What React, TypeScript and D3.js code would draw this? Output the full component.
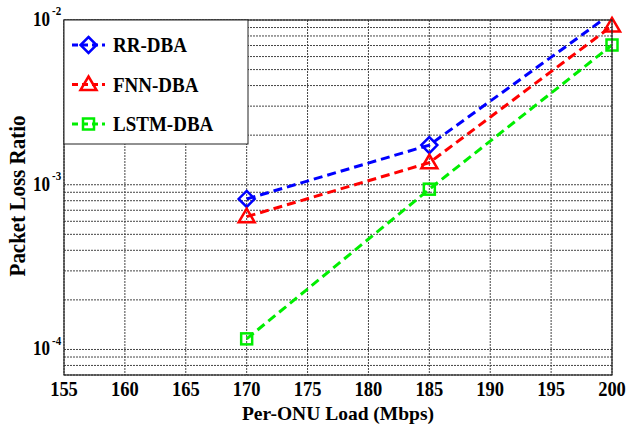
import React from "react";
import * as d3 from "d3";

const xTicks = [155, 160, 165, 170, 175, 180, 185, 190, 195, 200];
const loads = [170, 185, 200];
const rrDba = [8.2e-4, 1.74e-3, 1.1e-2];
const fnnDba = [6.4e-4, 1.36e-3, 9.2e-3];
const lstmDba = [1.16e-4, 9.4e-4, 7.05e-3];
const seriesNames = ["RR-DBA", "FNN-DBA", "LSTM-DBA"];
const seriesColors = ["#0000ff", "#ff0000", "#00ee00"];
const seriesMarkers = ["diamond", "triangle", "square"];
const yMajor = [1e-4, 1e-3, 1e-2];
const yMajorExp = ["-4", "-3", "-2"];

const W = 628, H = 424;
const L = 64, R = 612, T = 20, B = 375;
const FONT = "'Liberation Serif', 'Times New Roman', serif";

function Marker({ type, x, y, color }: { type: string; x: number; y: number; color: string }) {
  const sw = 2.5;
  if (type === "diamond") {
    const s = 8;
    return <path d={`M${x},${y - s}L${x + s},${y}L${x},${y + s}L${x - s},${y}Z`} fill="none" stroke={color} strokeWidth={sw} />;
  }
  if (type === "triangle") {
    const s = 8;
    return <path d={`M${x},${y - s}L${x + s},${y + s * 0.7}L${x - s},${y + s * 0.7}Z`} fill="none" stroke={color} strokeWidth={sw} />;
  }
  const s = 5.5;
  return <rect x={x - s} y={y - s} width={2 * s} height={2 * s} fill="none" stroke={color} strokeWidth={sw} />;
}

export default function App() {
  const x = d3.scaleLinear().domain([155, 200]).range([L, R]);
  const y = d3.scaleLog().domain([7e-5, 1e-2]).range([B, T]);
  const minor: number[] = [];
  for (const dec of [1e-5, 1e-4, 1e-3]) {
    for (let k = 1; k <= 9; k++) {
      const v = dec * k;
      if (v >= 7e-5 && v <= 1e-2) minor.push(v);
    }
  }
  minor.push(1e-2);
  const data = [rrDba, fnnDba, lstmDba];
  const line = d3.line<number>().x((_, i) => x(loads[i])).y((d) => y(d));

  return (
    <svg width={W} height={H} style={{ position: "absolute", left: 0, top: 0, background: "#fff" }} fontFamily={FONT}>
      <defs>
        <clipPath id="plotclip">
          <rect x={L} y={T} width={R - L} height={B - T} />
        </clipPath>
      </defs>
      <rect x={0} y={0} width={W} height={H} fill="#fff" />
      {minor.map((v, i) => (
        <line key={"h" + i} x1={L} x2={R} y1={y(v)} y2={y(v)} stroke="#444" strokeWidth={1} strokeDasharray="2,1" />
      ))}
      {xTicks.map((t) => (
        <line key={"v" + t} x1={x(t)} x2={x(t)} y1={T} y2={B} stroke="#444" strokeWidth={1} strokeDasharray="2,1" />
      ))}
      <g clipPath="url(#plotclip)">
        {data.map((d, si) => (
          <path key={"l" + si} d={line(d) || ""} fill="none" stroke={seriesColors[si]} strokeWidth={3} strokeDasharray="9,5" />
        ))}
      </g>
      <g>
        {data.map((d, si) =>
          d.map((v, i) =>
            v <= 1e-2 ? <Marker key={"m" + si + i} type={seriesMarkers[si]} x={x(loads[i])} y={y(v)} color={seriesColors[si]} /> : null
          )
        )}
      </g>
      <rect x={L} y={T} width={R - L} height={B - T} fill="none" stroke="#222" strokeWidth={1.2} />
      <rect x={L} y={T} width={184} height={124} fill="#fff" stroke="#222" strokeWidth={1} />
      {seriesNames.map((n, i) => {
        const ly = 45 + i * 39.5;
        return (
          <g key={"lg" + n}>
            <line x1={72} x2={105} y1={ly} y2={ly} stroke={seriesColors[i]} strokeWidth={3} strokeDasharray="6,4" />
            <Marker type={seriesMarkers[i]} x={88.5} y={ly} color={seriesColors[i]} />
            <text transform={`translate(113,${ly + 7}) scale(1,1.1)`} fontSize={19} fontWeight="bold" fill="#000">{n}</text>
          </g>
        );
      })}
      {xTicks.map((t) => (
        <text key={"xt" + t} transform={`translate(${x(t)},${B + 21}) scale(1,1.08)`} fontSize={18.5} fontWeight="bold" textAnchor="middle" fill="#000">{t}</text>
      ))}
      {yMajor.map((v, i) => (
        <g key={"yt" + i} transform={`translate(0,${y(v) + 6}) scale(1,1.2)`}>
          <text x={50} y={0} fontSize={17} fontWeight="bold" textAnchor="end" fill="#000">10</text>
          <text x={52} y={-9} fontSize={11} fontWeight="bold" fill="#000">{yMajorExp[i]}</text>
        </g>
      ))}
      <text x={338} y={420} fontSize={19.5} fontWeight="bold" textAnchor="middle" fill="#000">Per-ONU Load (Mbps)</text>
      <text transform={`translate(25,196) rotate(-90) scale(1,1.1)`} fontSize={21} fontWeight="bold" textAnchor="middle" fill="#000">Packet Loss Ratio</text>
    </svg>
  );
}
